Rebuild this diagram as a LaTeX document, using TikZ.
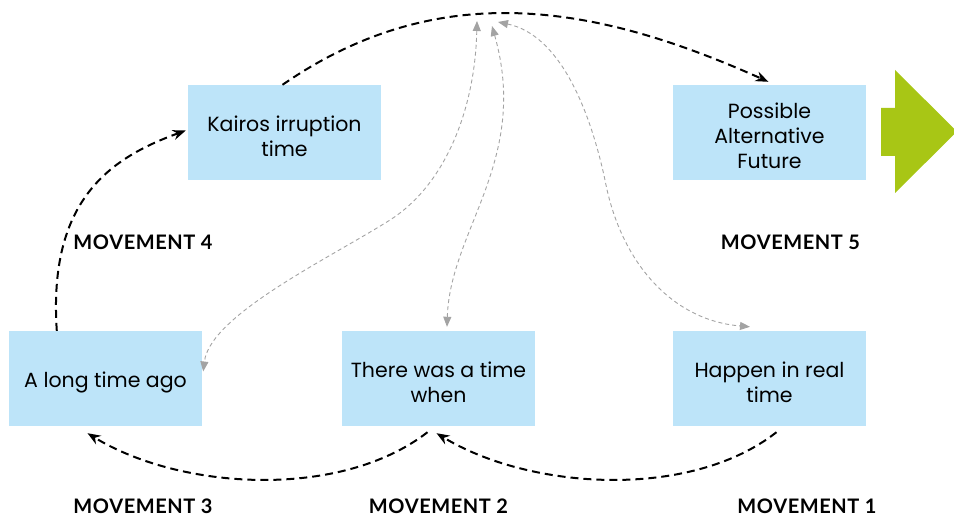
\documentclass[tikz,border=0pt]{standalone}
\usepackage{fontspec}
\setmainfont{Poppins}
\newfontfamily\movefont[LetterSpace=3]{Lato}
\usetikzlibrary{calc,arrows.meta}
\definecolor{boxblue}{HTML}{BDE4F9}
\definecolor{leafgreen}{HTML}{A8C615}
\definecolor{linkgrey}{HTML}{A3A3A3}
\newcommand\lift{\rule{0pt}{23pt}}	%pushes the box text down a little
\tikzset{
	box/.style={fill=boxblue, minimum width=193pt, minimum height=95pt, inner sep=0pt, align=center, font=\fontsize{20.5}{25}\selectfont},
	movelabel/.style={anchor=base, inner sep=0pt, font=\movefont\bfseries\fontsize{20}{24}\selectfont},
	movearrow/.style={line width=2pt, dash pattern=on 8pt off 5pt, -{Stealth[length=13pt,width=10pt]}},
	linkarrow/.style={linkgrey, line width=0.9pt, dash pattern=on 4pt off 3pt, {Triangle[length=10pt,width=8pt]}-{Triangle[length=10pt,width=8pt]}}
}
\begin{document}
\begin{tikzpicture}[x=1pt,y=-1pt]
	\useasboundingbox (0,0) rectangle (954,516);
	\def\rowup{132.5}	%centre line of the upper boxes
	\def\rowdown{378.5}	%centre line of the lower boxes
	\node[box] (kairos) at (284.5,\rowup) {\lift Kairos irruption\\time};
	\node[box] (future) at (769.5,\rowup) {\lift Possible\\Alternative\\Future};
	\node[box] (longago) at (105.5,\rowdown) {\lift A long time ago};
	\node[box] (wastime) at (438.5,\rowdown) {\lift There was a time\\when};
	\node[box] (realtime) at (769.5,\rowdown) {\lift Happen in real\\time};
	\fill[leafgreen] (881,108) -- (895,108) -- (895,70) -- (957,131.5) -- (895,193) -- (895,156) -- (881,156) -- cycle; %big arrow, right edge

	\foreach \n/\x/\y in {1/807/513, 2/438.5/513, 3/143/513, 4/143/249, 5/790.5/249}
		\node[movelabel] (move\n) at (\x,\y) {MOVEMENT \n};

	%the five movements
	\draw[movearrow] ($(realtime.south)+(7,6)$) .. controls (690,500) and (530,490) .. ($(wastime.south)+(-2,7)$);
	\draw[movearrow] ($(wastime.south)+(-11,6)$) .. controls (340,500) and (180,490) .. ($(longago.south)+(-18,7)$);
	\draw[movearrow] ($(longago.north west)+(48,0)$) .. controls (48,200) and (110,158) .. ($(kairos.west)+(-2,-2)$);
	\draw[movearrow] ($(kairos.north)+(-2,0)$) .. controls (440,-24) and (597,5) .. ($(future.north)+(-1,-3)$);

	%grey links up to the kairos arc
	\coordinate (pin1) at (477,21);
	\coordinate (pin2) at (492,26);
	\coordinate (pin3) at (498,22);
	\draw[linkarrow] (pin1) .. controls (475,110) and (445,185) .. (390,220) .. controls (330,258) and (210,315) .. ($(longago.east)+(1,-7)$);
	\draw[linkarrow] (pin2) .. controls (530,160) and (450,230) .. ($(wastime.north)+(8.5,-4)$);
	\draw[linkarrow] (pin3) .. controls (560,35) and (590,110) .. (605,180) .. controls (620,260) and (670,320) .. ($(realtime.north)+(-19.5,-4)$);
\end{tikzpicture}
\end{document}
